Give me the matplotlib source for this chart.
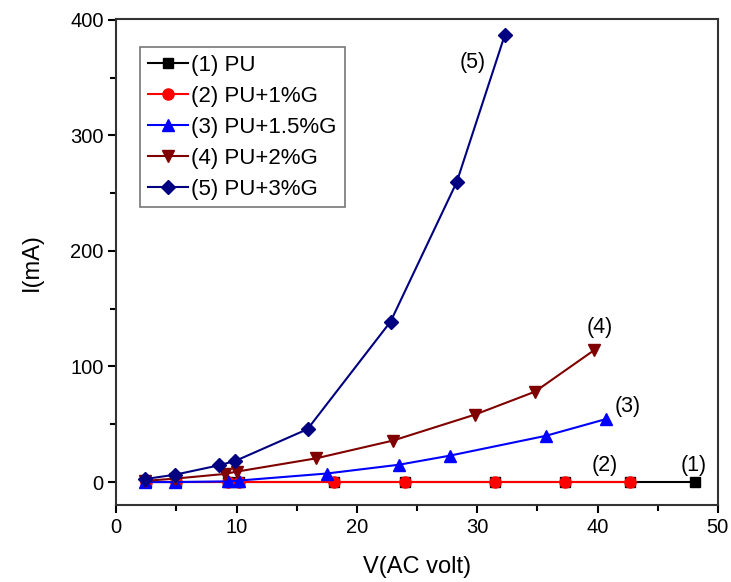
import matplotlib
matplotlib.use("Agg")
import matplotlib.pyplot as plt
from matplotlib.ticker import MultipleLocator

plt.rcParams['font.family'] = ['Liberation Sans', 'DejaVu Sans']

# Data
v1 = [2.5, 5.0, 9.3, 10.2, 18.1, 24.0, 31.5, 37.3, 42.7, 48.1]
i1 = [0, 0, 0, 0, 0, 0, 0, 0, 0, 0]
v2 = [2.5, 5.0, 9.3, 10.2, 18.1, 24.0, 31.5, 37.3, 42.7]
i2 = [0, 0, 0, 0, 0, 0, 0, 0, 0]
v3 = [2.4, 4.9, 9.3, 10.2, 17.5, 23.5, 27.7, 35.7, 40.7]
i3 = [0, 0, 0.6, 1.3, 7.4, 15.0, 22.8, 40.0, 54.5]
v4 = [2.4, 4.9, 9.0, 10.0, 16.6, 23.0, 29.8, 34.8, 39.7]
i4 = [1.0, 3.0, 7.0, 9.0, 20.5, 35.9, 58.3, 78.2, 114.0]
v5 = [2.4, 4.9, 8.5, 9.9, 15.9, 22.8, 28.3, 32.3]
i5 = [2.6, 6.4, 14.4, 18.3, 45.8, 138.8, 259.6, 387.0]

labels = ["(1) PU", "(2) PU+1%G", "(3) PU+1.5%G", "(4) PU+2%G", "(5) PU+3%G"]
colors = ["#000000", "#FF0000", "#0000FF", "#800000", "#000080"]
markers = ["s", "o", "^", "v", "D"]

fig = plt.figure(figsize=(7.31, 5.82), dpi=100)
ax = fig.add_axes([0.159, 0.132, 0.823, 0.836])

series = [(v1, i1), (v2, i2), (v3, i3), (v4, i4), (v5, i5)]
msizes = [7, 8, 9, 9, 7.5]
for (x, y), lab, c, m, ms in zip(series, labels, colors, markers, msizes):
    ax.plot(x, y, color=c, marker=m, markersize=ms, linewidth=1.5, label=lab)

ax.set_xlim(0, 50)
ax.set_ylim(-20, 401)
ax.xaxis.set_major_locator(MultipleLocator(10))
ax.xaxis.set_minor_locator(MultipleLocator(5))
ax.yaxis.set_major_locator(MultipleLocator(100))
ax.yaxis.set_minor_locator(MultipleLocator(50))
ax.tick_params(which='both', direction='out', top=False, right=False, labelsize=14.5)
ax.tick_params(which='major', length=6, width=1.5, pad=3)
ax.tick_params(which='minor', length=4, width=1.5)
for s in ax.spines.values():
    s.set_linewidth(1.5)
    s.set_color('#333333')

ax.set_xlabel("V(AC volt)", fontsize=17, labelpad=14)
ax.set_ylabel("I(mA)", fontsize=17, labelpad=20)

ann = [("(5)", 29.6, 363), ("(4)", 40.2, 134), ("(3)", 42.5, 65), ("(2)", 40.6, 14), ("(1)", 48.0, 14)]
for t, x, y in ann:
    ax.text(x, y, t, fontsize=15.5, ha='center', va='center')

leg = ax.legend(loc='upper left', bbox_to_anchor=(0.04, 0.942), fontsize=16,
                fancybox=False, frameon=True, edgecolor='#555555',
                handlelength=1.8, handletextpad=0.15, labelspacing=0.45,
                borderpad=0.35, borderaxespad=0.0)
leg.get_frame().set_linewidth(1.2)

fig.savefig("out.png", dpi=100)
